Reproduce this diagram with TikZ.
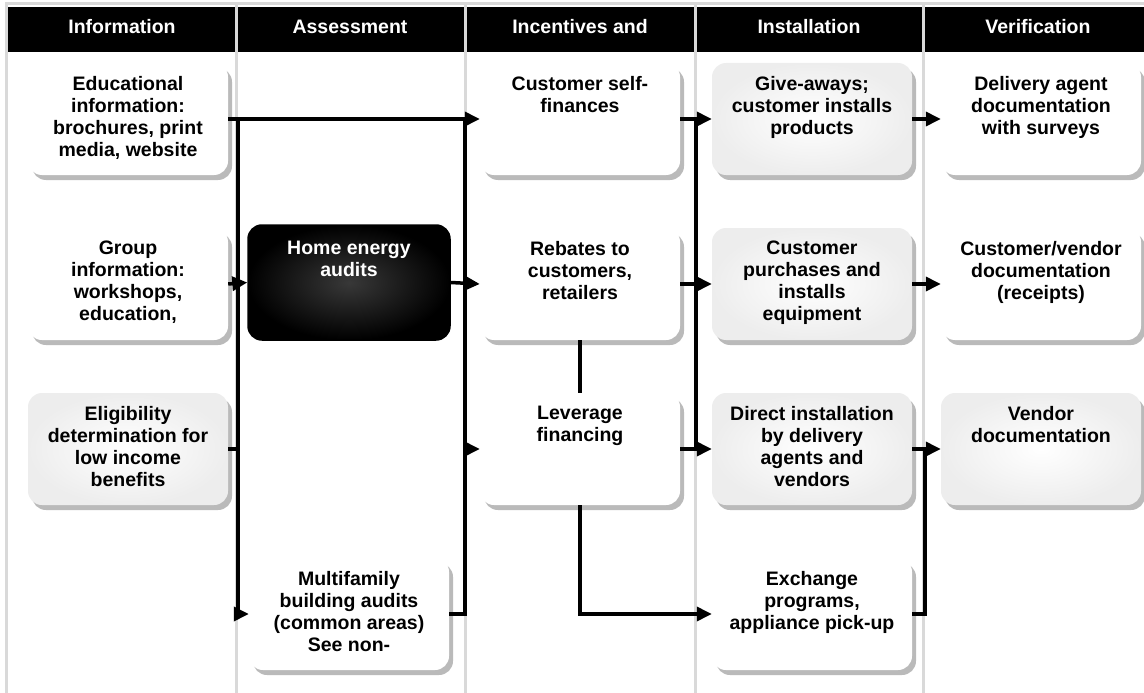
\documentclass[tikz,border=0pt]{standalone}
\usepackage{fontspec}
\setmainfont{Liberation Sans}
\usetikzlibrary{arrows.meta,shadows,calc}
\newcommand\mybox[5]{%
  \node[#2] (#1) at (#3) {};
  \node[txt,#4] at ([yshift=-13pt]#1.north) {#5};
}
\begin{document}
\begin{tikzpicture}[x=1pt,y=-1pt,
  gridline/.style={draw=black!15, line width=3pt},
  boxbase/.style={rounded corners=14pt, minimum width=200pt, minimum height=112pt, inner sep=0pt,
    drop shadow={fill=black!27, opacity=1, shadow xshift=4pt, shadow yshift=-5pt}},
  whitebox/.style={boxbase, fill=white},
  graybox/.style={boxbase, inner color=white, outer color=black!7},
  darkbox/.style={rounded corners=14pt, minimum width=202pt, minimum height=115pt, inner sep=0pt,
    inner color=black!78, outer color=black, draw=black, line width=1.5pt},
  txt/.style={font=\bfseries\fontsize{19.5}{22}\selectfont, align=center, anchor=north, inner sep=0pt},
  head/.style={font=\bfseries\fontsize{19.5}{22}\selectfont, text=white, inner sep=0pt},
  conn/.style={draw=black, line width=3.5pt},
  arr/.style={conn, -{Triangle[length=15pt,width=14pt]}},
]
\useasboundingbox (0,0) rectangle (1144,693);
% header band
\fill[black] (8,7) rectangle (1144,52);
% frame and column dividers
\draw[gridline] (5,4) -- (1144,4);
\draw[gridline] (6.5,3) -- (6.5,693);
\foreach \xx in {236,465,695,923} \draw[gridline] (\xx,3) -- (\xx,693);
% headers
\node[head] (h1) at (122,27) {Information};
\node[head] (h2) at (350,27) {Assessment};
\node[head] (h3) at (580,27) {Incentives and};
\node[head] (h4) at (809,27) {Installation};
\node[head] (h5) at (1038,27) {Verification};
% bus coordinates
\coordinate (busA) at (238,0);
\coordinate (busB) at (465,0);
\coordinate (busC) at (696,0);
\coordinate (busD) at (925,0);
% column 1
\mybox{edu}{whitebox}{128,119}{}{Educational\\information:\\brochures, print\\media, website}
\mybox{grp}{whitebox}{128,284}{}{Group\\information:\\workshops,\\education,}
\mybox{elig}{graybox}{128,449}{}{Eligibility\\determination for\\low income\\benefits}
% column 2
\mybox{hea}{darkbox}{349,282.5}{text=white,yshift=-4pt}{Home energy\\audits}
\mybox{mf}{whitebox}{349,614}{}{Multifamily\\building audits\\(common areas)\\See non-}
% column 3
\mybox{self}{whitebox}{580,119}{}{Customer self-\\finances}
\mybox{reb}{whitebox}{580,284}{}{Rebates to\\customers,\\retailers}
\mybox{lev}{whitebox}{580,449}{}{Leverage\\financing}
% column 4
\mybox{give}{graybox}{812,119}{}{Give-aways;\\customer installs\\products}
\mybox{purch}{graybox}{812,284}{}{Customer\\purchases and\\installs\\equipment}
\mybox{direct}{graybox}{812,449}{}{Direct installation\\by delivery\\agents and\\vendors}
\mybox{ex}{whitebox}{812,614}{}{Exchange\\programs,\\appliance pick-up}
% column 5
\mybox{vA}{whitebox}{1041,119}{}{Delivery agent\\documentation\\with surveys}
\mybox{vB}{whitebox}{1041,284}{}{Customer/vendor\\documentation\\(receipts)}
\mybox{vC}{graybox}{1041,449}{}{Vendor\\documentation}
% connectors
\draw[arr] (edu.east) -- (self.west);
\draw[arr] (edu.east -| busA) -- (busA |- mf.west) -- (mf.west);
\draw[arr] (grp.east) -- (hea.west);
\draw[conn] (elig.east) -- (elig.east -| busA);
\draw[arr] (hea.east) -- (reb.west);
\draw[conn] (mf.east) -- (mf.east -| busB) -- (busB |- self.west);
\draw[arr] (busB |- lev.west) -- (lev.west);
\draw[conn] (reb.south) -- (lev.north);
\draw[arr] (lev.south) -- (lev.south |- ex.west) -- (ex.west);
\draw[arr] (self.east) -- (give.west);
\draw[arr] (reb.east) -- (purch.west);
\draw[arr] (lev.east) -- (direct.west);
\draw[conn] (busC |- self.east) -- (busC |- lev.east);
\draw[arr] (give.east) -- (vA.west);
\draw[arr] (purch.east) -- (vB.west);
\draw[arr] (direct.east) -- (vC.west);
\draw[conn] (ex.east) -- (ex.east -| busD) -- (busD |- vC.west);
\end{tikzpicture}
\end{document}
